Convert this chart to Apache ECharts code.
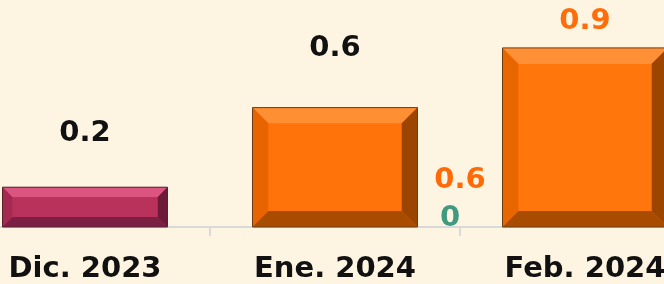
<!DOCTYPE html>
<html><head><meta charset="utf-8">
<script src="https://cdn.jsdelivr.net/npm/echarts@6/dist/echarts.min.js"></script>
<style>html,body{margin:0;padding:0;background:#fdf5e1;width:664px;height:284px;overflow:hidden;position:relative}
#c{position:absolute;left:-40px;top:0;width:750px;height:284px}</style>
</head><body><div id="c"></div>
<script>
const categories = ['Dic. 2023', 'Ene. 2024', 'Feb. 2024'];
const values = [0.2, 0.6, 0.9];
const extraLabels = ['0', '0.6'];       // texts of the two extra labels
const extraValues = [0, 0.6];           // their values (secondary scale)
const extraX = [2, 2];                  // category boundary position

const FONT = '"DejaVu Sans", sans-serif';
const palettes = [
  {face:'#b8325c', top:'#dc5480', left:'#a52a52', right:'#6d1a38', bottom:'#7c2043', border:'#5a2030'},
  {face:'#ff730a', top:'#ff8f33', left:'#e86400', right:'#9c4500', bottom:'#a84c00', border:'#6e3c14'},
  {face:'#ff760c', top:'#ff9035', left:'#e86600', right:'#9c4500', bottom:'#a84c00', border:'#6e3c14'}
];
const labelStyles = [
  {color:'#111', distance:39},
  {color:'#111', distance:45},
  {color:'#ff6d0a', distance:12}
];

const chart = echarts.init(document.getElementById('c'), null, {renderer:'canvas'});
chart.setOption({
  backgroundColor:'#fdf5e1',
  animation:false,
  grid:{left:0, right:0, top:28, bottom:56, containLabel:false},
  xAxis:[{
    type:'category', data:categories,
    axisLine:{lineStyle:{color:'#d9d9d9', width:2}},
    axisTick:{show:true, length:9, lineStyle:{color:'#d9d9d9', width:2}},
    axisLabel:{fontFamily:FONT, fontWeight:'bold', fontSize:29, color:'#111', margin:28}
  },{
    type:'value', min:0, max:3, show:false
  }],
  yAxis:[{type:'value', min:0, max:1, show:false},
         {type:'value', min:0, max:2.4, show:false}],
  series:[{
    type:'custom',
    xAxisIndex:0, yAxisIndex:0,
    data: values.map((v,i)=>[i,v]),
    renderItem:function(params, api){
      const i = api.value(0), v = api.value(1);
      const top = api.coord([i, v]);
      const base = api.coord([i, 0]);
      const w = api.size([1,0])[0]*0.66;
      const x0 = top[0]-w/2, x1 = top[0]+w/2, y0 = top[1], y1 = base[1];
      const h = y1-y0;
      const b = Math.min(16, h*0.25);
      const p = palettes[i];
      const poly = (pts, c)=>({type:'polygon', shape:{points:pts}, style:{fill:c}});
      return {type:'group', children:[
        {type:'rect', shape:{x:x0,y:y0,width:w,height:h}, style:{fill:p.face}},
        poly([[x0,y0],[x1,y0],[x1-b,y0+b],[x0+b,y0+b]], p.top),
        poly([[x0,y0],[x0+b,y0+b],[x0+b,y1-b],[x0,y1]], p.left),
        poly([[x1,y0],[x1,y1],[x1-b,y1-b],[x1-b,y0+b]], p.right),
        poly([[x0,y1],[x0+b,y1-b],[x1-b,y1-b],[x1,y1]], p.bottom),
        {type:'rect', shape:{x:x0+b,y:y0+b,width:w-2*b,height:h-2*b}, style:{fill:p.face}},
        {type:'rect', shape:{x:x0,y:y0,width:w,height:h}, style:{fill:null, stroke:p.border, lineWidth:1}}
      ]};
    }
  },{
    type:'bar', xAxisIndex:0, yAxisIndex:0, barWidth:'66%',
    itemStyle:{color:'rgba(0,0,0,0)'},
    data: values.map((v,i)=>({value:v, label:{show:true, position:'top', distance:labelStyles[i].distance,
      color:labelStyles[i].color, fontFamily:FONT, fontWeight:'bold', fontSize:29}})),
    z:5
  },{
    type:'scatter', xAxisIndex:1, yAxisIndex:1, symbolSize:0,
    itemStyle:{opacity:1},
    data: extraValues.map((v,i)=>({value:[extraX[i], v], name:extraLabels[i],
      label: i===0 ? {color:'#3f9a80', offset:[-10,-9]} : {color:'#ff6a08', offset:[0,3]}})),
    label:{show:true, position:'inside', fontFamily:FONT, fontWeight:'bold', fontSize:29,
      formatter:p=>p.name}
  }]
});
</script></body></html>
